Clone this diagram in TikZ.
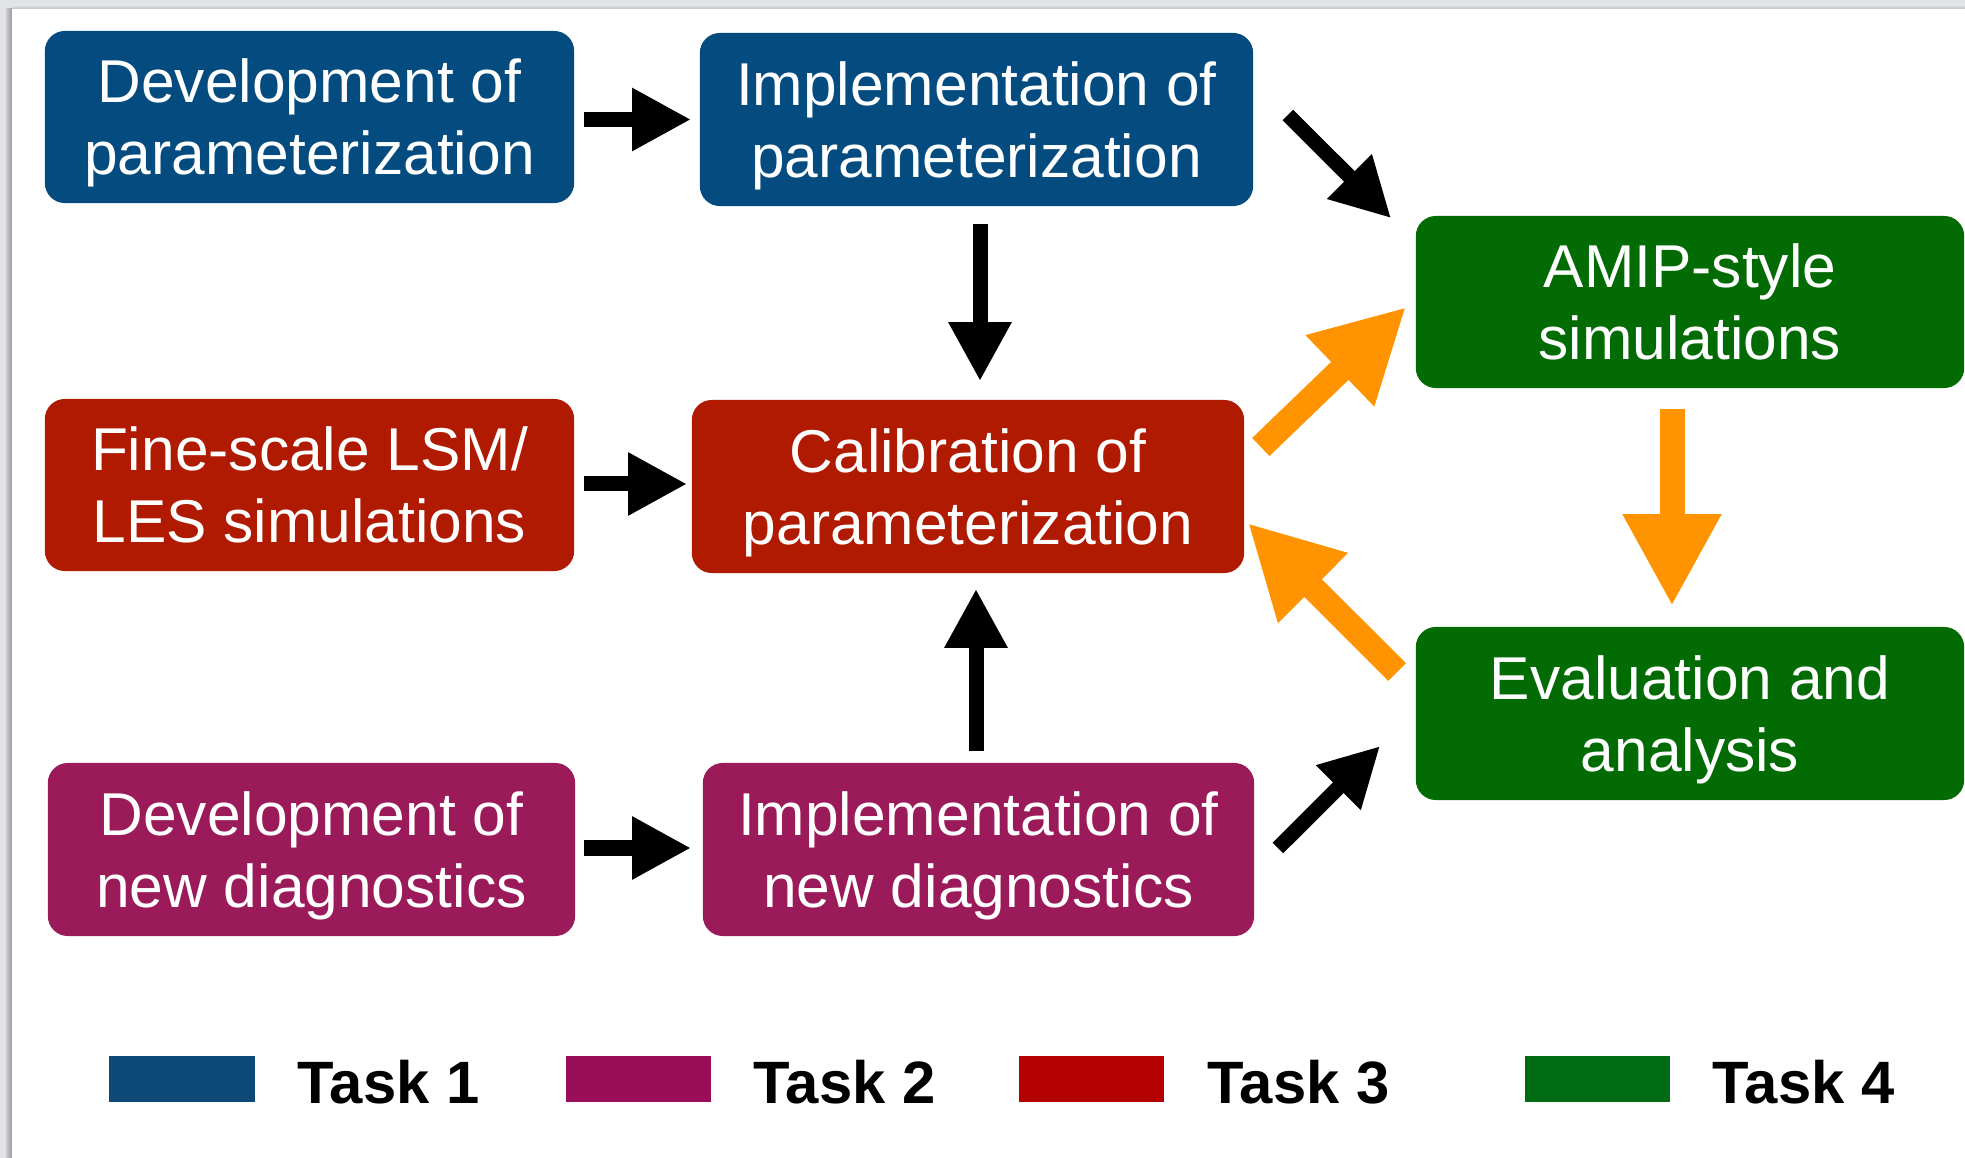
\documentclass[tikz,border=0pt]{standalone}
\usepackage{fontspec}
\usepackage{amsmath}
\setmainfont{Liberation Sans}
\usetikzlibrary{arrows.meta,calc}

% colours of the four tasks
\definecolor{taskblue}{HTML}{044B80}
\definecolor{taskred}{HTML}{AF1A00}
\definecolor{taskpurple}{HTML}{9B1A5A}
\definecolor{taskgreen}{HTML}{036B04}
\definecolor{keyblue}{HTML}{0E4877}
\definecolor{keyred}{HTML}{B40000}
\definecolor{keypurple}{HTML}{9A0D59}
\definecolor{keygreen}{HTML}{006B12}
\definecolor{flow}{HTML}{FF9300}
\definecolor{framegray}{HTML}{E2E3E6}

% last line of a box: ignore descenders so the text sits on its cap-height centre
\newcommand\capline[1]{\smash[b]{#1}}

\tikzset{
  taskbox/.style={rounded corners=0.2cm, text=white, align=center, inner sep=0pt,
    font=\fontsize{17.2pt}{20.5pt}\selectfont},
  keysquare/.style={inner sep=0pt, minimum width=1.45cm, minimum height=0.46cm},
  keylabel/.style={inner sep=0pt, anchor=base west,
    font=\fontsize{17pt}{20pt}\selectfont\bfseries},
  link/.style={line width=0.15cm, -{Triangle[length=0.59cm, width=0.59cm]}},
  feedback/.style={flow, line width=0.25cm, -{Triangle[length=0.92cm, width=0.92cm]}},
}

\begin{document}
\begin{tikzpicture}[x=0.01cm, y=-0.01cm]
  \useasboundingbox (0,0) rectangle (1965,1158);

  % page frame with a light shadow at the top and left
  \fill[framegray] (0,0) rectangle (1965,1158);
  \shade[left color=framegray!90!black, right color=black!40] (6,9) rectangle (12,1158);
  \shade[top color=framegray, bottom color=framegray!85!black] (12,5) rectangle (1965,9);
  \fill[white] (12,9) rectangle (1965,1158);

  % task boxes
  \node[taskbox, fill=taskblue, minimum width=5.29cm, minimum height=1.72cm]
    (devpar) at (309.5,117) {Development of\\\capline{parameterization}};
  \node[taskbox, fill=taskblue, minimum width=5.53cm, minimum height=1.73cm]
    (imppar) at (976.5,119.5) {Implementation of\\\capline{parameterization}};
  \node[taskbox, fill=taskgreen, minimum width=5.48cm, minimum height=1.72cm]
    (amip) at (1690,302) {AMIP-style\\\capline{simulations}};
  \node[taskbox, fill=taskred, minimum width=5.29cm, minimum height=1.72cm]
    (fine) at (309.5,485) {Fine-scale LSM/\\\capline{LES simulations}};
  \node[taskbox, fill=taskred, minimum width=5.52cm, minimum height=1.73cm]
    (calib) at (968,486.5) {Calibration of\\\capline{parameterization}};
  \node[taskbox, fill=taskgreen, minimum width=5.48cm, minimum height=1.73cm]
    (eval) at (1690,713.5) {Evaluation and\\\capline{analysis}};
  \node[taskbox, fill=taskpurple, minimum width=5.27cm, minimum height=1.73cm]
    (devdiag) at (311.5,849.5) {Development of\\\capline{new diagnostics}};
  \node[taskbox, fill=taskpurple, minimum width=5.51cm, minimum height=1.73cm]
    (impdiag) at (978.5,849.5) {Implementation of\\\capline{new diagnostics}};

  % black connectors
  \draw[link] ($(devpar.east)+(9,2.5)$) -- ($(imppar.west)+(-8,0)$);
  \draw[link] ($(imppar.south)+(3.5,17)$) -- ($(calib.north)+(12,-18)$);
  \draw[link] ($(fine.east)+(9,-1)$) -- ($(calib.west)+(-4,-2.5)$);
  \draw[link] ($(impdiag.north)+(-2.5,-11)$) -- ($(calib.south)+(8,15)$);
  \draw[link] ($(devdiag.east)+(8,-1.5)$) -- ($(impdiag.west)+(-11,-1.5)$);
  \draw[link] ($(imppar.east)+(34,-4.5)$) -- ($(amip.north west)+(-24,3)$);
  \draw[link] ($(impdiag.east)+(23,-1.5)$) -- ($(eval.west)+(-35,32.5)$);

  % orange feedback loop
  \draw[feedback] ($(calib.east)+(16,-39.5)$) -- ($(amip.west)+(-9,5)$);
  \draw[feedback] ($(amip.south)+(-18,20)$) -- ($(eval.north)+(-18,-20)$);
  \draw[feedback] ($(eval.west)+(-18,-41.5)$) -- ($(calib.east)+(3,36.5)$);

  % key
  \node[keysquare, fill=keyblue]   (key1) at (182,1079) {};
  \node[keysquare, fill=keypurple] (key2) at (638.5,1079) {};
  \node[keysquare, fill=keyred]    (key3) at (1091.5,1079) {};
  \node[keysquare, fill=keygreen]  (key4) at (1597.5,1079) {};
  \node[keylabel] (lab1) at (297,1104) {Task 1};
  \node[keylabel] (lab2) at (753,1104) {Task 2};
  \node[keylabel] (lab3) at (1207,1104) {Task 3};
  \node[keylabel] (lab4) at (1712,1104) {Task 4};
\end{tikzpicture}
\end{document}
